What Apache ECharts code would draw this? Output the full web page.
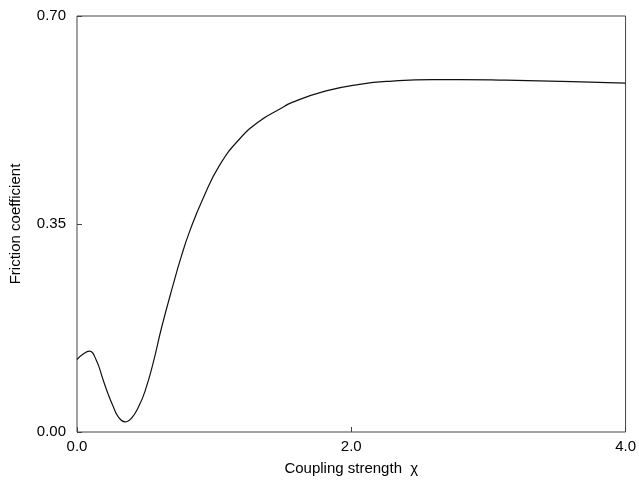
<!DOCTYPE html>
<html>
<head>
<meta charset="utf-8">
<script src="https://cdn.jsdelivr.net/npm/echarts@6/dist/echarts.min.js"></script>
<style>
  html, body { margin: 0; padding: 0; background: #fff; }
  #chart { width: 639px; height: 481px; }
</style>
</head>
<body>
<div id="chart"></div>
<script>
// Coupling strength (chi) samples and the friction coefficient at each
const chi = [0, 0.05, 0.09, 0.14, 0.19, 0.23, 0.264, 0.30, 0.35, 0.40, 0.45, 0.495, 0.555,
             0.616, 0.70, 0.76, 0.822, 0.919, 1.04, 1.185, 1.33, 1.476, 1.573, 1.816,
             2.06, 2.3, 2.59, 2.79, 3.125, 3.61, 4.0];
const friction = [0.122, 0.132, 0.136, 0.121, 0.088, 0.062, 0.043, 0.026, 0.017, 0.024,
                  0.043, 0.068, 0.116, 0.175, 0.247, 0.295, 0.338, 0.393, 0.449, 0.493,
                  0.523, 0.543, 0.555, 0.574, 0.585, 0.5905, 0.593, 0.593, 0.592, 0.5895,
                  0.587];

const xTicks = [0, 2, 4];
const yTicks = [0, 0.35, 0.7];

const font = '"Liberation Sans", Arial, Helvetica, sans-serif';
const axisColor = '#444';

const chart = echarts.init(document.getElementById('chart'), null, { renderer: 'canvas' });
chart.setOption({
  animation: false,
  backgroundColor: '#fff',
  grid: {
    left: 77, right: 11, top: 16, bottom: 45,
    show: true, borderColor: axisColor, borderWidth: 1, backgroundColor: 'transparent'
  },
  xAxis: {
    type: 'value', min: 0, max: 4, interval: 2,
    name: 'Coupling strength  \u03c7',
    nameLocation: 'middle', nameGap: 29,
    nameTextStyle: { fontFamily: font, fontSize: 15, color: '#000' },
    axisLine: { show: false },
    axisTick: { show: true, inside: true, length: 5, lineStyle: { color: axisColor } },
    splitLine: { show: false },
    axisLabel: {
      fontFamily: font, fontSize: 15, color: '#000', margin: 7,
      formatter: v => xTicks.includes(v) ? v.toFixed(1) : ''
    }
  },
  yAxis: {
    type: 'value', min: 0, max: 0.7, interval: 0.35,
    name: 'Friction coefficient',
    nameLocation: 'middle', nameGap: 54, nameRotate: 90,
    nameTextStyle: { fontFamily: font, fontSize: 15, color: '#000' },
    axisLine: { show: false },
    axisTick: { show: true, inside: true, length: 5, lineStyle: { color: axisColor } },
    splitLine: { show: false },
    axisLabel: {
      fontFamily: font, fontSize: 15, color: '#000', margin: 11,
      formatter: v => yTicks.some(t => Math.abs(t - v) < 1e-9) ? v.toFixed(2) : ''
    }
  },
  series: [{
    type: 'line',
    data: chi.map((x, i) => [x, friction[i]]),
    smooth: 0.5,
    showSymbol: false,
    lineStyle: { color: '#111', width: 1.2 }
  }]
});
</script>
</body>
</html>
